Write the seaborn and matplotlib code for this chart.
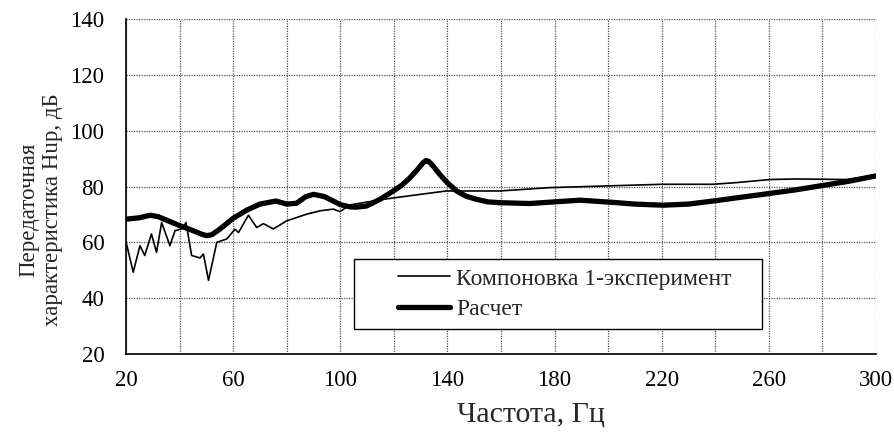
import numpy as np
import pandas as pd
import matplotlib
matplotlib.use("Agg")
import matplotlib.pyplot as plt
import seaborn as sns
from matplotlib.ticker import MultipleLocator, FuncFormatter
from matplotlib.patches import Rectangle

# --- data ---
exp_freq = [20, 20.2, 22.7, 25.2, 27, 29.5, 31.4, 33.3, 36.4, 38.3, 40.8, 42.4, 44.5,
            47.6, 48.9, 50.8, 53.9, 57.6, 60.7, 62, 65.7, 68.8, 71.3, 75, 80, 87.5,
            92.5, 97.4, 99.9, 103.6, 116, 128.4, 139.6, 159.6, 178.3, 199.4, 220.5,
            239.2, 248, 260.4, 270.3, 289, 300]
exp_vals = [59.5, 59.4, 49.3, 58.8, 55.3, 63, 56.4, 67.1, 58.8, 64.2, 64.8, 67.1, 55.3,
            54.4, 55.8, 46.4, 60, 61.2, 64.7, 63.5, 69.7, 65.3, 66.7, 64.8, 67.7, 70.1,
            71.3, 71.9, 71.0, 73.4, 75.4, 77, 78.4, 78.4, 79.6, 80.2, 80.8,
            80.8, 81.4, 82.5, 82.7, 82.5, 84]

calc_freq = [20, 25, 29, 32, 35, 40, 45, 48, 50, 52, 55, 60, 65, 70, 76, 80, 83.7,
             87, 90, 94, 97.4, 100, 103.6, 106, 109.8, 115, 119.8, 123, 126, 129, 131,
             132, 133, 134.5, 137, 140, 143.4, 147, 150.9, 155, 159.6, 170.8, 180,
             189.5, 201.9, 210, 220.5, 230, 239.2, 250, 257.9, 270, 279, 290, 300]
calc_vals = [68.3, 68.8, 69.7, 69.2, 68.0, 66.0, 64.2, 63.0, 62.4, 62.7, 64.7, 68.6,
             71.5, 73.7, 74.8, 73.7, 74.0, 76.3, 77.2, 76.4, 74.8, 73.5, 72.7, 72.6,
             73.0, 75.5, 78.4, 80.5, 83.1, 86.3, 88.6, 89.3, 89.0, 87.5, 84.5, 81.3,
             78.4, 76.5, 75.4, 74.5, 74.2, 73.9, 74.5, 75.1, 74.3, 73.7, 73.3, 73.7,
             74.8, 76.2, 77.2, 78.8, 80.2, 81.9, 83.8]

label_exp = "Компоновка 1-эксперимент"
label_calc = "Расчет"
x_label = "Частота, Гц"
y_label = "Передаточная\nхарактеристика Hup, дБ"

sns.set_style("white")
plt.rcParams['font.family'] = ['Liberation Serif', 'DejaVu Serif']

fig = plt.figure(figsize=(8.95, 4.36), dpi=100)
ax = fig.add_axes([126/895, 1-354/436, 750/895, 335/436])

sns.lineplot(x=exp_freq, y=exp_vals, ax=ax, color='black', linewidth=1.2,
             estimator=None, sort=False, label=label_exp)
sns.lineplot(x=calc_freq, y=calc_vals, ax=ax, color='black', linewidth=3.8,
             estimator=None, sort=False, label=label_calc)

ax.set_xlim(20, 300)
ax.set_ylim(20, 140)
ax.xaxis.set_major_locator(MultipleLocator(20))
ax.xaxis.set_minor_locator(MultipleLocator(10))
ax.yaxis.set_major_locator(MultipleLocator(20))
ax.xaxis.set_major_formatter(FuncFormatter(lambda v, p: f"{int(round(v))}" if int(round(v - 20)) % 40 == 0 else ""))

ax.grid(True, which='major', color='#555555', linestyle=(0, (1, 1)), linewidth=0.9)
ax.set_axisbelow(True)
for s in ['top', 'right']:
    ax.spines[s].set_visible(False)
for s in ['left', 'bottom']:
    ax.spines[s].set_color('black')
    ax.spines[s].set_linewidth(1.2)

ax.tick_params(axis='both', which='major', direction='inout', length=11, width=1,
               colors='black', labelsize=16.5)
ax.tick_params(axis='x', which='minor', direction='in', length=5, width=1, colors='black')
ax.tick_params(axis='x', which='major', pad=6)
ax.tick_params(axis='y', which='major', pad=10)

ax.set_xlabel(x_label, fontsize=21.5)
ax.xaxis.set_label_coords(0.54, -0.143)
ax.set_ylabel(y_label, fontsize=16.5)
ax.yaxis.set_label_coords(-0.084, 0.43)

# legend frame (drawn as a white box) and legend entries
frame = Rectangle((0.304, 0.0746), 0.544, 0.209, transform=ax.transAxes,
                  facecolor='white', edgecolor='black', linewidth=1.0, zorder=5)
ax.add_patch(frame)
leg = ax.legend(loc='center left', bbox_to_anchor=(0.3627, 0.179),
                fontsize=17, frameon=False, handlelength=2.2, handletextpad=0.25,
                borderpad=0, borderaxespad=0, labelspacing=0.38)
leg.set_zorder(6)

fig.savefig("out.png", dpi=100)
